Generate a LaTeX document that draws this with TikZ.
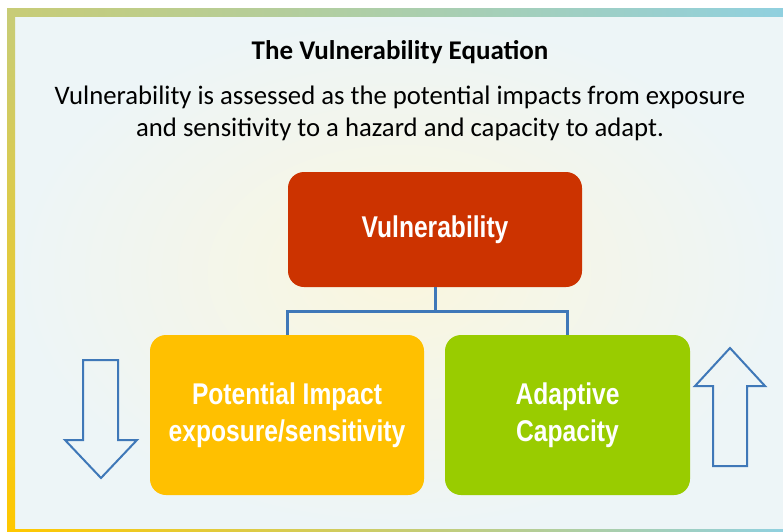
\documentclass[tikz,border=0pt]{standalone}
\usepackage{fontspec}
\setmainfont{Carlito}
\newfontfamily\boxfont[FakeStretch=0.82]{Liberation Sans}
\usetikzlibrary{calc}
\definecolor{frameolive}{HTML}{C8CC76}
\definecolor{frameblue}{HTML}{90D0DF}
\definecolor{frameyellow}{HTML}{FFC800}
\definecolor{bgcream}{HTML}{FAF6DE}
\definecolor{bgblue}{HTML}{EDF5F7}
\definecolor{vulred}{HTML}{CC3300}
\definecolor{impyellow}{HTML}{FFC000}
\definecolor{adagreen}{HTML}{99CC00}
\definecolor{linkblue}{HTML}{3F78B8}

\begin{document}
\begin{tikzpicture}[x=1pt, y=-1pt,
    box/.style={rounded corners=16pt, inner sep=0pt, text=white,
      font=\boxfont\bfseries\fontsize{30}{37}\selectfont, align=center},
    link/.style={linkblue, line width=3pt},
    hollow/.style={linkblue, line width=2pt, line join=miter}]
    \useasboundingbox (0,0) rectangle (783,531);
    % page frame and soft background
    \fill[white] (0,0) rectangle (783,531);
    \shade[inner color=bgcream, outer color=bgblue] (15,16) rectangle (783,529);
    \shade[left color=frameolive, right color=frameblue] (7,8) rectangle (783,16);
    \shade[top color=frameolive, bottom color=frameyellow] (7,16) rectangle (15,531);
    \shade[left color=frameyellow, right color=frameblue] (15,529) rectangle (783,531);
    % heading (base of a two-line node is its last line)
    \node[anchor=base, font=\bfseries\fontsize{27}{30}\selectfont] (title) at (400,59) {The Vulnerability Equation};
    \node[anchor=base, align=center, font=\fontsize{26.7}{32}\selectfont] (lead) at (400,136)
      {Vulnerability is assessed as the potential impacts from exposure\\ and sensitivity to a hazard and capacity to adapt.};
    % the three boxes
    \node[box, fill=vulred, minimum width=294pt, minimum height=115pt] (vul) at (435,229.5) {Vulnerability};
    \node[box, fill=impyellow, minimum width=274pt, minimum height=160pt] (imp) at (287,415) {Potential Impact\\exposure/sensitivity};
    \node[box, fill=adagreen, minimum width=245pt, minimum height=160pt] (ada) at (567.5,415) {Adaptive\\Capacity};
    \coordinate (fork) at ($(vul.south)+(0,24)$);
    \draw[link] (vul.south) -- (fork);
    \draw[link] (imp.north) |- (fork) -| (ada.north);
    % hollow arrows on the sides
    \draw[hollow] (83,360) -- (118,360) -- (118,440) -- (137,440) -- (101,478) -- (65,440) -- (83,440) -- cycle;
    \draw[hollow] (713,466) -- (747,466) -- (747,386) -- (765,386) -- (730,348) -- (695,386) -- (713,386) -- cycle;
\end{tikzpicture}
\end{document}
